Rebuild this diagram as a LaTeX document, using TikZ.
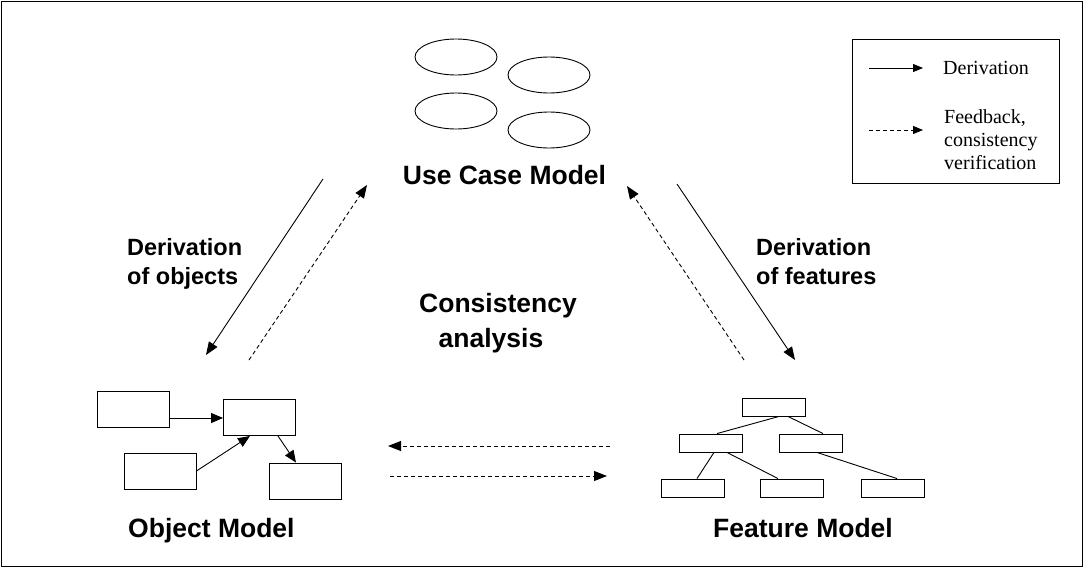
\documentclass[tikz,border=0pt]{standalone}
\usepackage{fontspec}
\setmainfont{Liberation Serif}
\setsansfont{Liberation Sans}
\usetikzlibrary{arrows.meta,shapes.geometric}
\begin{document}
\begin{tikzpicture}[x=1pt,y=-1pt,
  ln/.style={line width=0.9pt},
  bigtip/.style={-{Triangle[length=13pt,width=10pt]}},
  dsh/.style={dash pattern=on 4pt off 3pt},
  uc/.style={draw,ln,ellipse,minimum width=82pt,minimum height=36pt,inner sep=0pt},
  obox/.style={draw,ln,rectangle,minimum width=72pt,minimum height=36pt,inner sep=0pt},
  fbox/.style={draw,ln,rectangle,minimum width=63pt,minimum height=18pt,inner sep=0pt},
  bigtxt/.style={inner sep=0pt,font=\sffamily\bfseries\fontsize{26.5}{30}\selectfont},
  midtxt/.style={inner sep=0pt,font=\sffamily\bfseries\fontsize{23.5}{28}\selectfont},
  legtxt/.style={inner sep=0pt,anchor=base west,font=\fontsize{20}{23}\selectfont}]
\useasboundingbox (0,0) rectangle (1084,568);
\draw[ln] (1.5,1.5) rectangle (1082.5,566.5);

% legend
\node[draw,ln,rectangle,minimum width=207pt,minimum height=144pt,inner sep=0pt] (legend) at (955.5,111) {};
\coordinate (ls1) at (869,68); \coordinate (le1) at (923,68);
\coordinate (ls2) at (869,130); \coordinate (le2) at (923,130);
\draw[ln,-{Triangle[length=10pt,width=8pt]}] (ls1) -- (le1);
\draw[ln,dsh,-{Triangle[length=10pt,width=8pt]}] (ls2) -- (le2);
\node[legtxt] (lt1) at (943,74) {Derivation};
\node[legtxt] (lt2) at (944,123) {Feedback,};
\node[legtxt] (lt3) at (944,146) {consistency};
\node[legtxt] (lt4) at (944,169) {verification};

% use case model
\node[uc] (e1) at (456,57) {};
\node[uc] (e2) at (549,75) {};
\node[uc] (e3) at (456,111) {};
\node[uc] (e4) at (549,130) {};
\node[bigtxt,anchor=base] (ucm) at (504.5,184) {Use Case Model};

% derivation labels
\node[midtxt,anchor=base west] (do1) at (127,255) {Derivation};
\node[midtxt,anchor=base west] (do2) at (127,284) {of objects};
\node[midtxt,anchor=base west] (df1) at (756,255) {Derivation};
\node[midtxt,anchor=base west] (df2) at (756,284) {of features};

% consistency analysis
\node[bigtxt,anchor=base] (ca1) at (498,312) {Consistency};
\node[bigtxt,anchor=base] (ca2) at (491,347) {analysis};

% diagonal arrows
\coordinate (a1s) at (323,179); \coordinate (a1e) at (206,355);
\coordinate (a2s) at (249,360); \coordinate (a2e) at (367,185);
\coordinate (a3s) at (677,184); \coordinate (a3e) at (795,360);
\coordinate (a4s) at (744,360); \coordinate (a4e) at (627,186);
\draw[ln,bigtip] (a1s) -- (a1e);
\draw[ln,dsh,bigtip] (a2s) -- (a2e);
\draw[ln,bigtip] (a3s) -- (a3e);
\draw[ln,dsh,bigtip] (a4s) -- (a4e);

% horizontal dashed arrows
\coordinate (h1s) at (610,446); \coordinate (h1e) at (388,446);
\coordinate (h2s) at (390,476); \coordinate (h2e) at (607,476);
\draw[ln,dsh,bigtip] (h1s) -- (h1e);
\draw[ln,dsh,bigtip] (h2s) -- (h2e);

% object model
\node[obox] (b1) at (133,409) {};
\node[obox] (b2) at (259.5,417.5) {};
\node[obox] (b3) at (160,471.5) {};
\node[obox] (b4) at (305.5,481) {};
\draw[ln,-{Triangle[length=12pt,width=10pt]}] (b1.east |- 0,418) -- (b2.west |- 0,418);
\draw[ln,-{Triangle[length=12pt,width=10pt]}] (b3.east |- 0,471) -- (250,436);
\draw[ln,-{Triangle[length=12pt,width=10pt]}] (278,436) -- (b4.north -| 296,0);
\node[bigtxt,anchor=base west] (om) at (128,537) {Object Model};

% feature model
\node[fbox] (t) at (774,407) {};
\node[fbox] (ml) at (710.5,443) {};
\node[fbox] (mr) at (810.5,443) {};
\node[fbox] (bl) at (692.5,488) {};
\node[fbox] (bm) at (791.5,488) {};
\node[fbox] (br) at (892.5,488) {};
\draw[ln] (t.south -| 779,0) -- (ml.north -| 717,0);
\draw[ln] (t.south -| 788,0) -- (mr.north -| 823,0);
\draw[ln] (ml.south -| 714,0) -- (bl.north -| 697,0);
\draw[ln] (ml.south -| 727,0) -- (bm.north -| 778,0);
\draw[ln] (mr.south -| 817,0) -- (br.north -| 897,0);
\node[bigtxt,anchor=base west] (fm) at (713,537) {Feature Model};
\end{tikzpicture}
\end{document}
